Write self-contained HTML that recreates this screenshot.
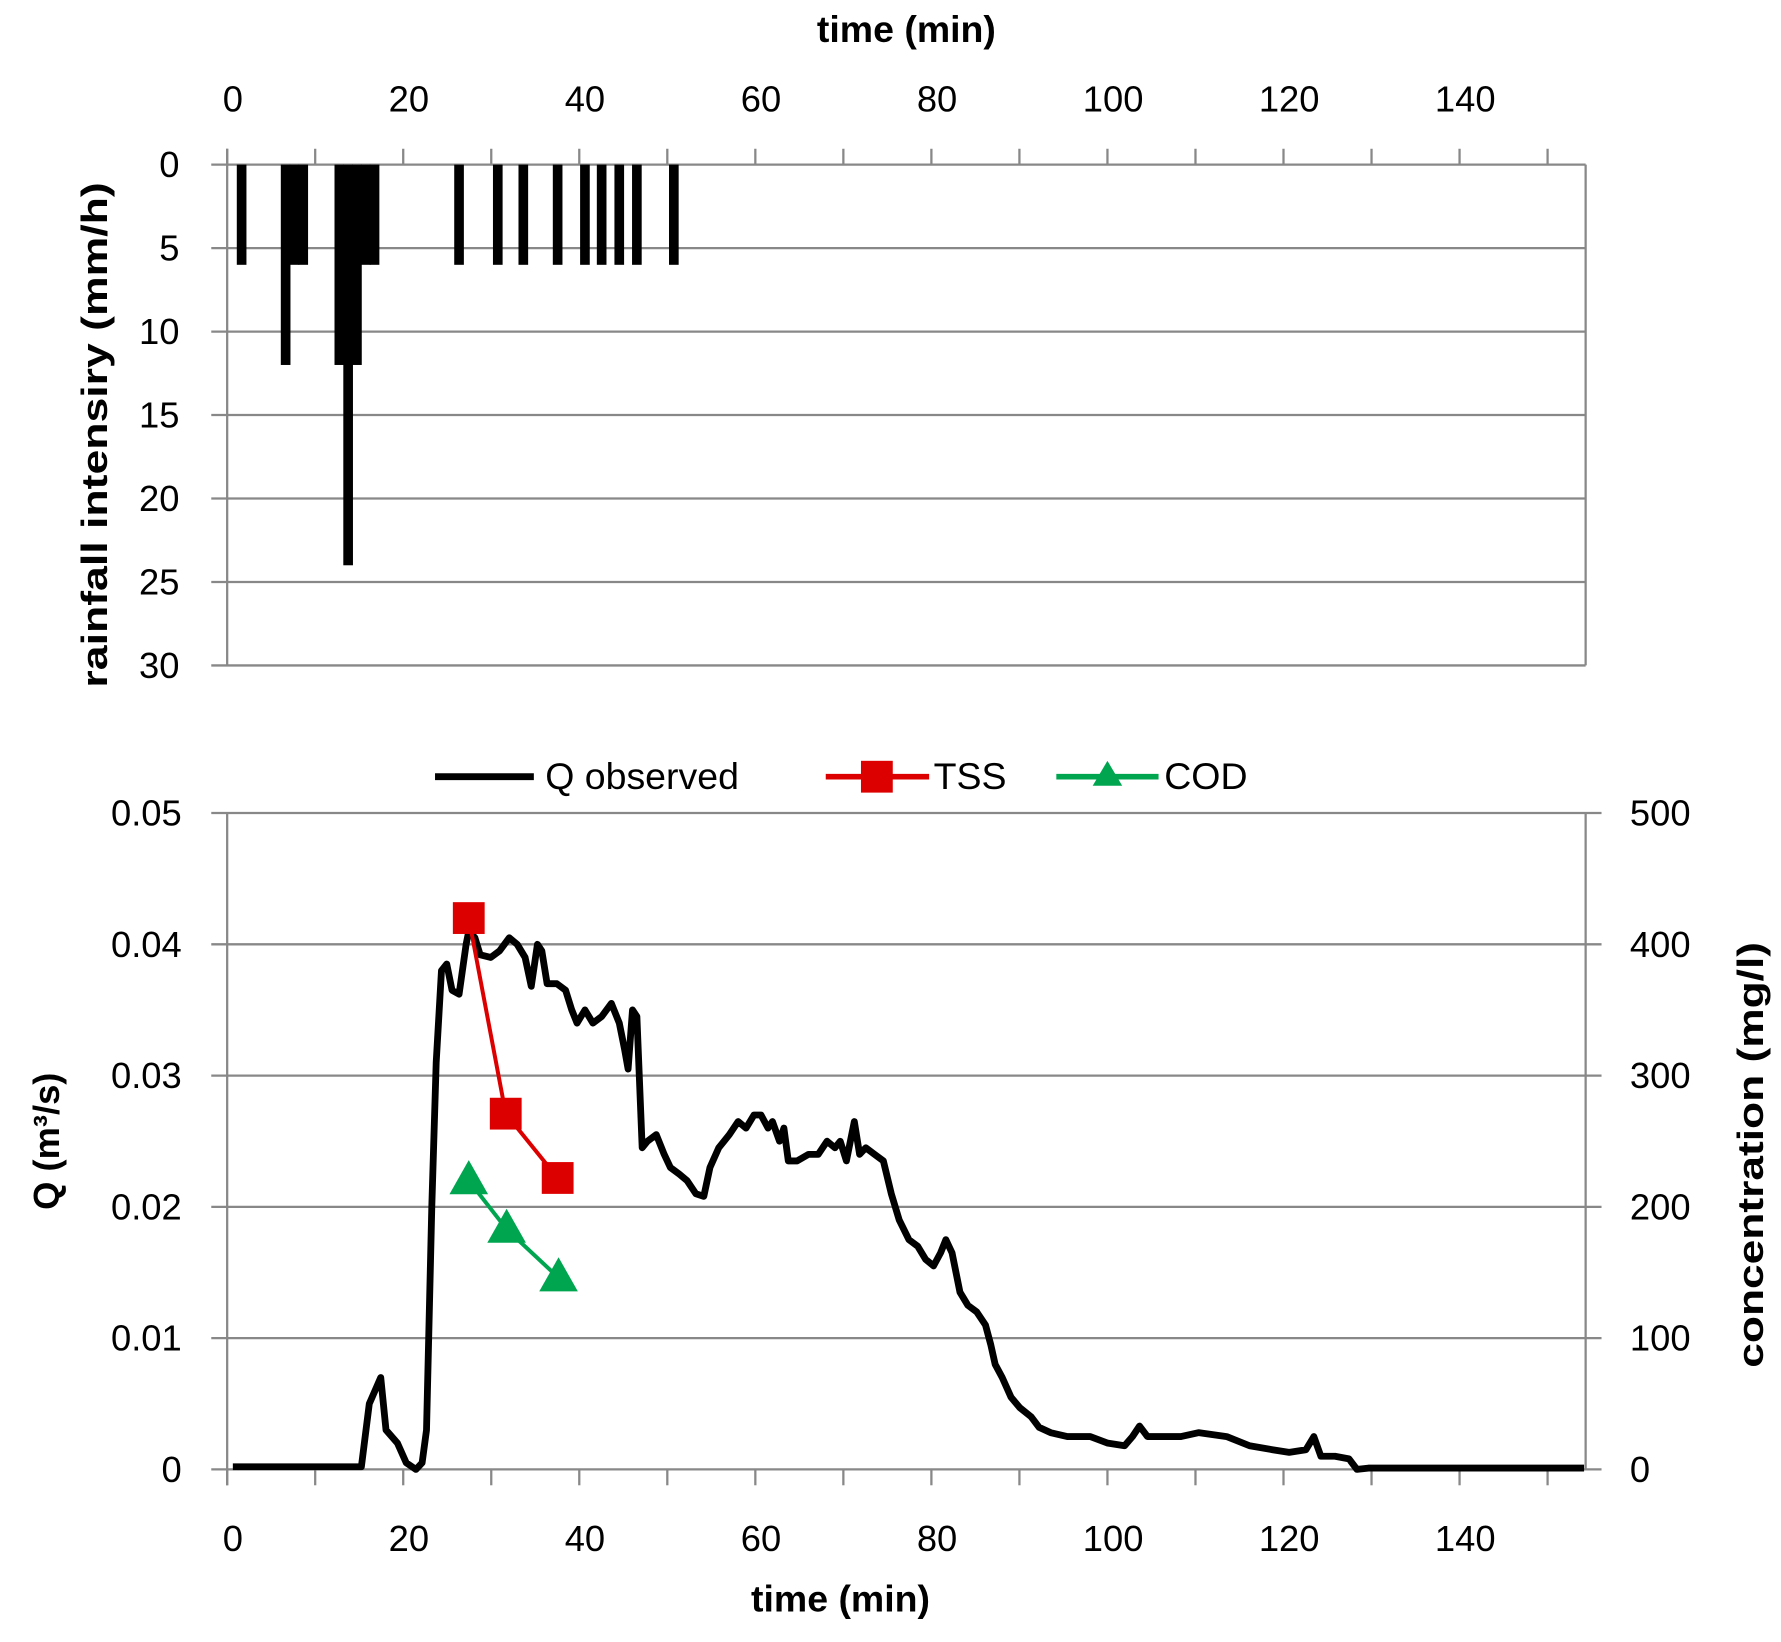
<!DOCTYPE html>
<html><head><meta charset="utf-8"><style>
html,body{margin:0;padding:0;background:#fff}
svg{display:block}
text{font-family:"Liberation Sans Narrow","Liberation Sans",sans-serif;fill:#000}
</style></head><body>
<svg id="chart" width="1781" height="1642" viewBox="0 0 1568 1446" preserveAspectRatio="none" xmlns="http://www.w3.org/2000/svg">
<g id="topPanel"></g>
<g id="botPanel"></g>
</svg>
<script>
// ---- data ----
const xTicks = [0,20,40,60,80,100,120,140];
const rainTicks = [0,5,10,15,20,25,30];
const qTicks = ["0","0.01","0.02","0.03","0.04","0.05"];
const qTickVals = [0,0.01,0.02,0.03,0.04,0.05];
const concTicks = [0,100,200,300,400,500];
const rainTime = [1,6,7,8,12.1,13.1,14.1,15.1,16.1,25.7,30.1,33,36.9,40,41.9,43.9,45.9,50.1];
const rainVal  = [6,12,6,6,12,24,12,6,6,6,6,6,6,6,6,6,6,6];
const qTime = [0,5,10,14.6,15.5,16.8,17.4,18.7,19.7,20.8,21.5,22,22.6,23.1,23.7,24.3,24.9,25.7,26.5,26.8,27.5,28.1,29.3,30.3,31.4,32.3,33.2,33.9,34.6,35.1,35.7,36.8,37.8,38.5,39.1,40,40.9,41.9,43,43.9,44.5,44.9,45.4,45.9,46.5,47.1,48.1,49,49.7,50.7,51.6,52.6,53.5,54.2,55.2,56.4,57.4,58.3,59.2,60,60.8,61.3,62.1,62.6,63.1,64.1,65.4,66.5,67.5,68.4,69,69.7,70.6,71.2,71.9,72.9,73.9,74.8,75.7,76.8,77.8,78.7,79.6,80.4,81,81.7,82.6,83.5,84.5,85.5,86.1,86.6,87.4,88.4,89.4,90.7,91.6,92.9,94.8,97.4,99.4,101.3,102.2,103,103.9,105.2,107.7,109.7,112.9,115.5,118.1,120,121.9,122.8,123.6,125.2,126.8,127.7,129,140,153.5];
const qVal = [0.0002,0.0002,0.0002,0.0002,0.005,0.007,0.003,0.002,0.0005,0,0.0005,0.003,0.02,0.031,0.038,0.0385,0.0365,0.0362,0.04,0.041,0.0405,0.0392,0.039,0.0395,0.0405,0.04,0.039,0.0368,0.04,0.0395,0.037,0.037,0.0365,0.035,0.034,0.035,0.034,0.0345,0.0355,0.034,0.032,0.0305,0.035,0.0345,0.0245,0.025,0.0255,0.024,0.023,0.0225,0.022,0.021,0.0208,0.023,0.0245,0.0255,0.0265,0.026,0.027,0.027,0.026,0.0265,0.025,0.026,0.0235,0.0235,0.024,0.024,0.025,0.0245,0.025,0.0235,0.0265,0.024,0.0245,0.024,0.0235,0.021,0.019,0.0175,0.017,0.016,0.0155,0.0165,0.0175,0.0165,0.0135,0.0125,0.012,0.011,0.0095,0.008,0.007,0.0055,0.0047,0.004,0.0032,0.0028,0.0025,0.0025,0.002,0.0018,0.0025,0.0033,0.0025,0.0025,0.0025,0.0028,0.0025,0.0018,0.0015,0.0013,0.0015,0.0025,0.001,0.001,0.0008,0,0.0001,0.0001,0.0001];
const tssTime = [26.8,31,36.9];
const tssVal = [420,271,222];
const codTime = [26.8,31.1,37];
const codVal = [220,183,146];

// ---- axes ----
const L=200,R=1396, T1=145,B1=586, T2=716,B2=1294;
const x = t => 205 + 7.75*t;
const yRain = v => T1 + (B1-T1)*v/30;
const yQ = v => B2 - (B2-T2)*v/0.05;
const yC = v => B2 - (B2-T2)*v/500;
const NS='http://www.w3.org/2000/svg';
function mk(parent,tag,attrs,txt){const e=document.createElementNS(NS,tag);for(const k in attrs)e.setAttribute(k,attrs[k]);if(txt!==undefined)e.textContent=txt;parent.appendChild(e);return e;}
const topG=document.getElementById('topPanel'), botG=document.getElementById('botPanel');

// top panel
rainTicks.forEach(v=>{
  const g=mk(topG,'line',{x1:L-14,x2:R,y1:yRain(v),y2:yRain(v),stroke:'#888','stroke-width':2});
  
  
  const t=mk(topG,'text',{x:158,y:yRain(v)+11,'text-anchor':'end','font-size':32},String(v));
  
  
});
mk(topG,'line',{x1:L,x2:L,y1:T1-14,y2:B1,stroke:'#888','stroke-width':2});
mk(topG,'line',{x1:R,x2:R,y1:T1,y2:B1,stroke:'#888','stroke-width':2});
for(let t=0;t<=150;t+=10){mk(topG,'line',{x1:x(t)-5,x2:x(t)-5,y1:T1-14,y2:T1,stroke:'#888','stroke-width':2});}
xTicks.forEach(v=>{
  const t=mk(topG,'text',{x:x(v),y:98,'text-anchor':'middle','font-size':32},String(v));
  
  
});
rainTime.forEach((t,i)=>{
  const r=mk(topG,'rect',{x:x(t-0.5)-0.4,y:T1,width:8.5,height:yRain(rainVal[i])-T1,fill:'#000'});
  
  
});
let e=mk(topG,'text',{x:798,y:37,'text-anchor':'middle','font-size':33,'font-weight':'bold'},'time (min)');


e=mk(topG,'text',{x:0,y:0,'text-anchor':'middle','font-size':32,'font-weight':'bold',transform:'translate(94,383) rotate(-90)',textLength:445,lengthAdjust:'spacingAndGlyphs'},'rainfall intensiry (mm/h)');



// bottom panel
qTickVals.forEach((v,i)=>{
  const g=mk(botG,'line',{x1:L-14,x2:R+14,y1:yQ(v),y2:yQ(v),stroke:'#888','stroke-width':2});
  
  
  const t=mk(botG,'text',{x:160,y:yQ(v)+11,'text-anchor':'end','font-size':32},qTicks[i]);
  
  
});
concTicks.forEach(v=>{
  const t=mk(botG,'text',{x:1435,y:yC(v)+11,'text-anchor':'start','font-size':32},String(v));
  
  
});
mk(botG,'line',{x1:L,x2:L,y1:T2,y2:B2+14,stroke:'#888','stroke-width':2});
mk(botG,'line',{x1:R,x2:R,y1:T2,y2:B2,stroke:'#888','stroke-width':2});
for(let t=0;t<=150;t+=10){mk(botG,'line',{x1:x(t)-5,x2:x(t)-5,y1:B2,y2:B2+14,stroke:'#888','stroke-width':2});}
xTicks.forEach(v=>{
  const t=mk(botG,'text',{x:x(v),y:1366,'text-anchor':'middle','font-size':32},String(v));
  
  
});
let p=mk(botG,'polyline',{points:qTime.map((t,i)=>x(t)+','+yQ(qVal[i])).join(' '),fill:'none',stroke:'#000','stroke-width':6,'stroke-linejoin':'round'});


p=mk(botG,'polyline',{points:tssTime.map((t,i)=>x(t)+','+yC(tssVal[i])).join(' '),fill:'none',stroke:'#dd0000','stroke-width':3.5});


tssTime.forEach((t,i)=>{
  const r=mk(botG,'rect',{x:x(t)-14,y:yC(tssVal[i])-14,width:28,height:28,fill:'#dd0000'});
  
  
});
p=mk(botG,'polyline',{points:codTime.map((t,i)=>x(t)+','+yC(codVal[i])).join(' '),fill:'none',stroke:'#00a550','stroke-width':3.5});


codTime.forEach((t,i)=>{
  const cx=x(t), cy=yC(codVal[i]);
  const r=mk(botG,'polygon',{points:`${cx},${cy-18} ${cx-17},${cy+12} ${cx+17},${cy+12}`,fill:'#00a550'});
  
  
});
// legend
const lg=mk(botG,'g',{});


mk(lg,'line',{x1:383,x2:470,y1:684,y2:684,stroke:'#000','stroke-width':6});
mk(lg,'text',{x:480,y:695,'font-size':33},'Q observed');
mk(lg,'line',{x1:727,x2:818,y1:684,y2:684,stroke:'#dd0000','stroke-width':5});
mk(lg,'rect',{x:758,y:670,width:28,height:28,fill:'#dd0000'});
mk(lg,'text',{x:822,y:695,'font-size':33},'TSS');
mk(lg,'line',{x1:930,x2:1020,y1:684,y2:684,stroke:'#00a550','stroke-width':5});
mk(lg,'polygon',{points:'975,670 962,692 988,692',fill:'#00a550'});
mk(lg,'text',{x:1025,y:695,'font-size':33},'COD');
e=mk(botG,'text',{x:740,y:1419,'text-anchor':'middle','font-size':33,'font-weight':'bold'},'time (min)');


e=mk(botG,'text',{x:0,y:0,'text-anchor':'middle','font-size':32,'font-weight':'bold',transform:'translate(52,1005) rotate(-90)'},'Q (m³/s)');


e=mk(botG,'text',{x:0,y:0,'text-anchor':'middle','font-size':32,'font-weight':'bold',transform:'translate(1552,1017) rotate(-90)',textLength:375,lengthAdjust:'spacingAndGlyphs'},'concentration (mg/l)');


</script>
</body></html>
